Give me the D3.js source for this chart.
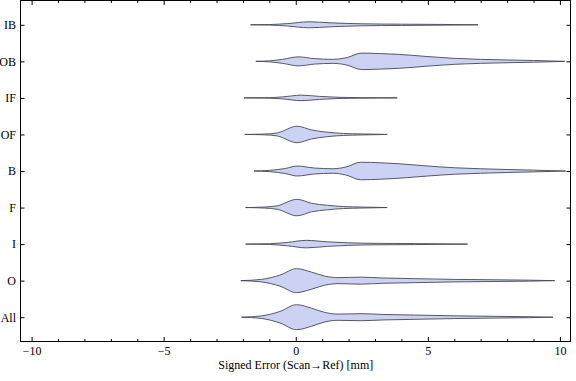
<!DOCTYPE html>
<html><head><meta charset="utf-8">
<script src="https://cdn.jsdelivr.net/npm/d3@7"></script>
<style>
body{margin:0;background:#fff;}
svg text{font-family:"Liberation Serif","Times New Roman","DejaVu Serif",serif;}
</style></head>
<body><svg id="c" width="576" height="381"></svg>
<script>
const categories = ["IB","OB","IF","OF","B","F","I","O","All"];
const xLabel = "Signed Error (Scan\u2192Ref) [mm]";
const majorTicks = [-10,-5,0,5,10];
const minorTicks = d3.range(-10,11,1);

// violin profiles: error value (mm) and relative density
const ibX = [-1.71,-1.0,-0.3,0.5,1.3,2.5,4.0,5.5,6.9];
const ibD = [0,0.02,0.1,0.24,0.16,0.08,0.05,0.03,0];
const obX = [-1.51,-1.0,-0.5,0.1,0.7,1.4,1.9,2.5,3.2,3.9,5.0,6.0,7.0,8.0,9.0,10.18];
const obD = [0,0.04,0.16,0.36,0.22,0.16,0.28,0.66,0.62,0.56,0.38,0.24,0.16,0.11,0.07,0];
const ifX = [-1.96,-1.0,-0.5,0.2,0.9,1.6,2.5,3.84];
const ifD = [0,0.02,0.08,0.22,0.12,0.05,0.02,0];
const ofX = [-1.93,-1.2,-0.7,0.05,0.6,1.1,1.8,2.5,3.46];
const ofD = [0,0.03,0.12,0.66,0.36,0.2,0.08,0.04,0];
const bX = [-1.58,-1.0,-0.4,0.05,0.7,1.4,1.9,2.45,3.2,3.9,5.0,6.0,7.0,8.0,9.0,10.22];
const bD = [0,0.05,0.2,0.4,0.24,0.18,0.32,0.7,0.66,0.58,0.4,0.26,0.18,0.12,0.07,0];
const fX = [-1.90,-1.2,-0.7,0.05,0.6,1.2,1.8,2.5,3.46];
const fD = [0,0.04,0.14,0.66,0.34,0.18,0.08,0.04,0];
const iX = [-1.90,-1.0,-0.3,0.4,1.2,2.0,3.0,4.5,6.5];
const iD = [0,0.03,0.14,0.3,0.18,0.1,0.06,0.04,0];
const oX = [-2.08,-1.3,-0.6,0.03,0.6,1.1,1.6,2.45,3.3,4.5,6.0,7.5,8.8,9.8];
const oD = [0,0.1,0.44,0.96,0.68,0.36,0.24,0.28,0.21,0.16,0.1,0.07,0.04,0];
const allX = [-2.05,-1.3,-0.6,0.03,0.6,1.1,1.6,2.5,3.3,4.5,6.0,7.5,8.8,9.74];
const allD = [0,0.1,0.46,1,0.72,0.38,0.25,0.28,0.22,0.17,0.11,0.07,0.04,0];

const profiles = {IB:[ibX,ibD],OB:[obX,obD],IF:[ifX,ifD],OF:[ofX,ofD],B:[bX,bD],F:[fX,fD],I:[iX,iD],O:[oX,oD],All:[allX,allD]};

const L=20.5, R=570.5, T=0.5, B=341.5;
const svg = d3.select("#c");
const x = d3.scaleLinear().domain([-10.42,10.40]).range([L,R]);
const y = d3.scalePoint().domain(categories).range([T,B]).padding(0.665);
const w = d3.scaleLinear().domain([0,1]).range([0,12.5]);

// violins
categories.forEach(c=>{
  const [xs,ds] = profiles[c];
  const pts = xs.map((v,i)=>[v,ds[i]]);
  const yc = y(c);
  const area = d3.area().x(d=>x(d[0])).y0(d=>yc-w(d[1])).y1(d=>yc+w(d[1])).curve(d3.curveMonotoneX);
  svg.append("path").attr("d",area(pts)).attr("fill","#cbd2f4").attr("stroke","#474752").attr("stroke-width",0.9).attr("stroke-linejoin","round");
});

// frame
svg.append("rect").attr("x",L).attr("y",T).attr("width",R-L).attr("height",B-T).attr("fill","none").attr("stroke","#000").attr("stroke-width",1);

// bottom axis
const gB = svg.append("g").attr("transform",`translate(0,${B})`);
gB.call(d3.axisBottom(x).tickValues(majorTicks).tickSize(-4.5).tickPadding(4.5).tickFormat(d3.format("d")));
const gBm = svg.append("g").attr("transform",`translate(0,${B})`);
gBm.call(d3.axisBottom(x).tickValues(minorTicks.filter(v=>!majorTicks.includes(v))).tickSize(-2.5).tickFormat(""));
// top axis
const gT = svg.append("g").attr("transform",`translate(0,${T})`);
gT.call(d3.axisTop(x).tickValues(majorTicks).tickSize(-4.5).tickFormat(""));
const gTm = svg.append("g").attr("transform",`translate(0,${T})`);
gTm.call(d3.axisTop(x).tickValues(minorTicks.filter(v=>!majorTicks.includes(v))).tickSize(-2.5).tickFormat(""));
// left axis
const gL = svg.append("g").attr("transform",`translate(${L},0)`);
gL.call(d3.axisLeft(y).tickSize(-4).tickPadding(4.5));
// right axis
const gR = svg.append("g").attr("transform",`translate(${R},0)`);
gR.call(d3.axisRight(y).tickSize(-4).tickFormat(""));

svg.selectAll(".domain").remove();
svg.selectAll("g").attr("font-family",null);
svg.selectAll(".tick line").attr("stroke","#000");
svg.selectAll(".tick text").attr("font-size",12).attr("fill","#000");

svg.append("text").attr("x",x(0)).attr("y",368.5).attr("text-anchor","middle").attr("font-size",12).attr("fill","#000").text(xLabel);
</script></body></html>
